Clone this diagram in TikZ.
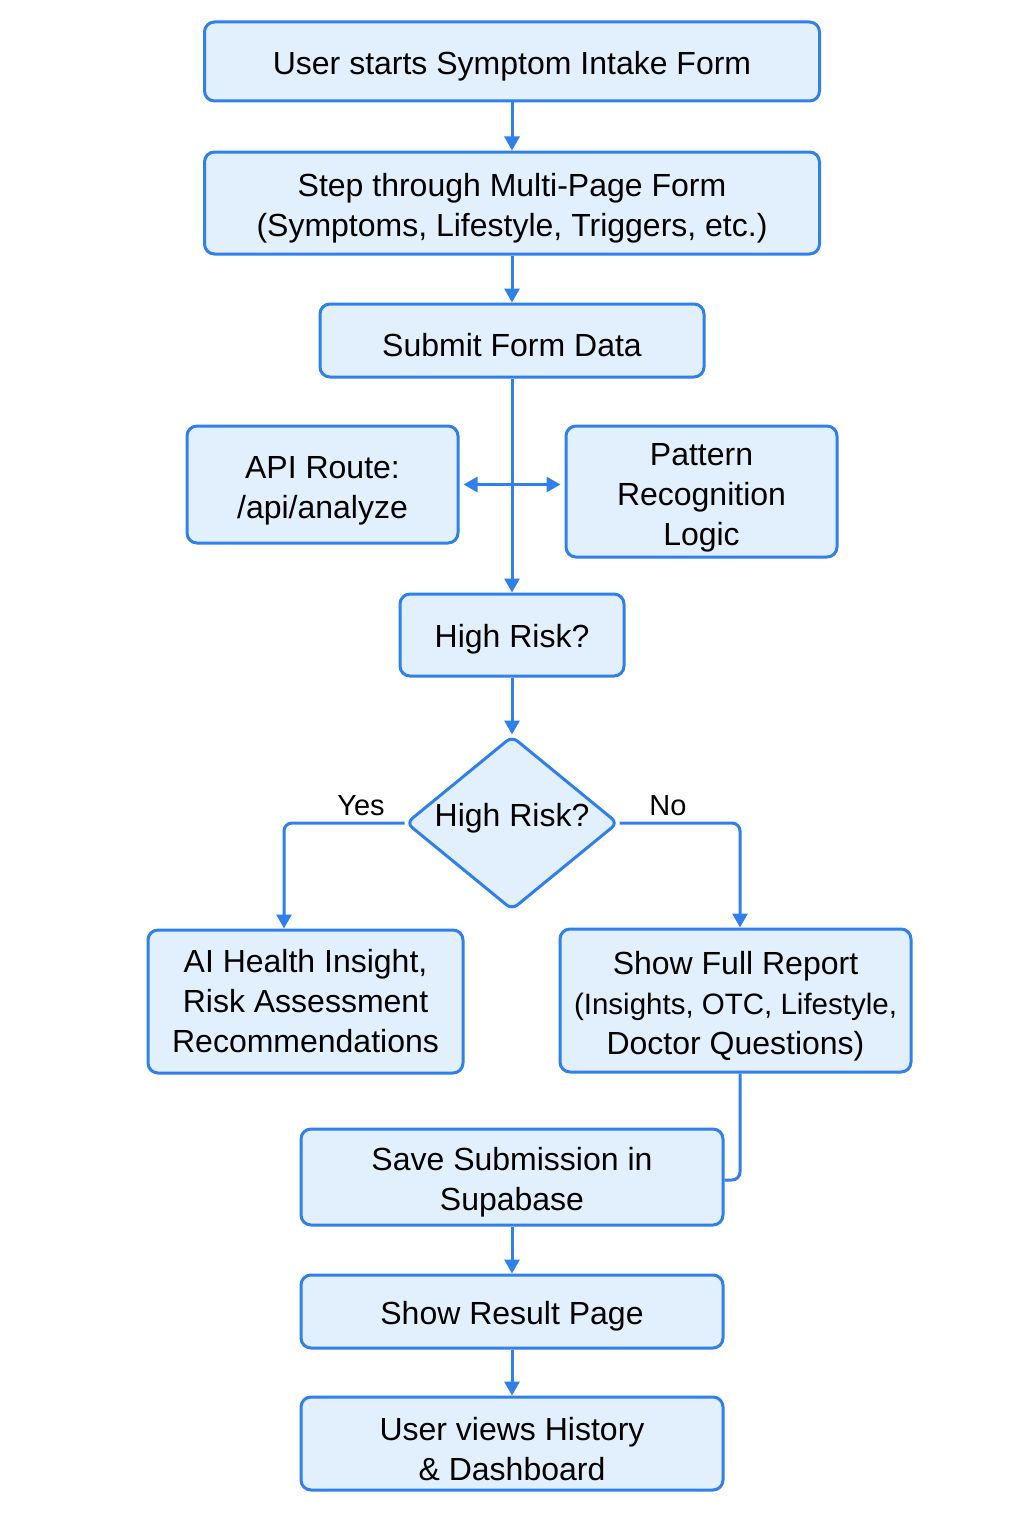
\documentclass[tikz,border=0pt]{standalone}
\usepackage{fontspec}
\setmainfont{Liberation Sans}
\usetikzlibrary{arrows.meta,shapes.geometric}
\definecolor{strokeblue}{RGB}{47,128,237}
\definecolor{fillblue}{RGB}{226,239,253}
\newcommand\myTallStrut{\rule{0pt}{34pt}}
\tikzset{
  box/.style={draw=strokeblue, fill=fillblue, line width=3pt, rounded corners=10pt,
    align=center, inner sep=0pt, font=\fontsize{32}{40}\selectfont, text=black,
    execute at begin node={\rule{0pt}{32pt}}},
  decision/.style={diamond, draw=strokeblue, fill=fillblue, line width=3pt, rounded corners=7pt,
    align=center, inner sep=0pt, text=black},
  conn/.style={draw=strokeblue, line width=3pt},
  arr/.style={conn, -{Triangle[width=15pt,length=14pt]}},
  lbl/.style={font=\fontsize{29}{32}\selectfont, text=black},
}
\begin{document}
\begin{tikzpicture}[x=1pt,y=-1pt]
\useasboundingbox (0,0) rectangle (1024,1536);
\fill[white] (0,0) rectangle (1024,1536);
\node[box, minimum width=615pt, minimum height=79pt] (b1) at (512,61.5) {User starts Symptom Intake Form};
\node[box, minimum width=615pt, minimum height=102pt] (b2) at (512,203) {\myTallStrut Step through Multi-Page Form\\(Symptoms, Lifestyle, Triggers, etc.)};
\node[box, minimum width=384pt, minimum height=73pt] (b3) at (512,340.5) {Submit Form Data};
\node[box, minimum width=271pt, minimum height=117pt] (api) at (322.5,484.5) {\myTallStrut API Route:\\/api/analyze};
\node[box, minimum width=271pt, minimum height=131pt] (pat) at (701.5,491.5) {\myTallStrut Pattern\\Recognition\\Logic};
\node[box, minimum width=224pt, minimum height=82pt] (hr) at (512,635) {High Risk?};
\node[decision, minimum width=212pt, minimum height=174pt] (dia) at (512,823) {};
\node[font=\fontsize{32}{40}\selectfont] (diat) at (512,818) {High Risk?};
\node[box, minimum width=315pt, minimum height=143pt] (ai) at (305.5,1001.5) {AI Health Insight,\\Risk Assessment\\Recommendations};
\node[box, minimum width=351pt, minimum height=143pt] (full) at (735.5,1000.5) {\myTallStrut Show Full Report\\{\fontsize{29.5}{40}\selectfont(Insights, OTC, Lifestyle,}\\Doctor Questions)};
\node[box, minimum width=422pt, minimum height=96pt] (save) at (512,1177) {\myTallStrut Save Submission in\\Supabase};
\node[box, minimum width=422pt, minimum height=73pt] (res) at (512,1311.5) {Show Result Page};
\node[box, minimum width=422pt, minimum height=93pt] (hist) at (512,1443.5) {\myTallStrut User views History\\\& Dashboard};

\draw[arr] (b1) -- (b2);
\draw[arr] (b2) -- (b3);
\draw[arr] (b3) -- (hr);
\draw[conn, {Triangle[width=15pt,length=14pt]}-{Triangle[width=15pt,length=14pt]}]
  ([shift={(4pt,0)}]api.east) -- ([shift={(-4pt,0)}]api.east -| pat.west);
\draw[arr] (hr) -- (dia);
\draw[arr, rounded corners=8pt] (dia.west) -| ([xshift=-21.5pt]ai.north);
\draw[arr, rounded corners=8pt] (dia.east) -| ([xshift=4.5pt]full.north);
\node[lbl] (yes) at (361,806) {Yes};
\node[lbl] (no) at (668,806) {No};
\draw[conn, rounded corners=8pt] ([xshift=4.5pt]full.south) |- ([yshift=-3pt]save.east);
\draw[arr] (save) -- (res);
\draw[arr] (res) -- (hist);
\end{tikzpicture}
\end{document}
